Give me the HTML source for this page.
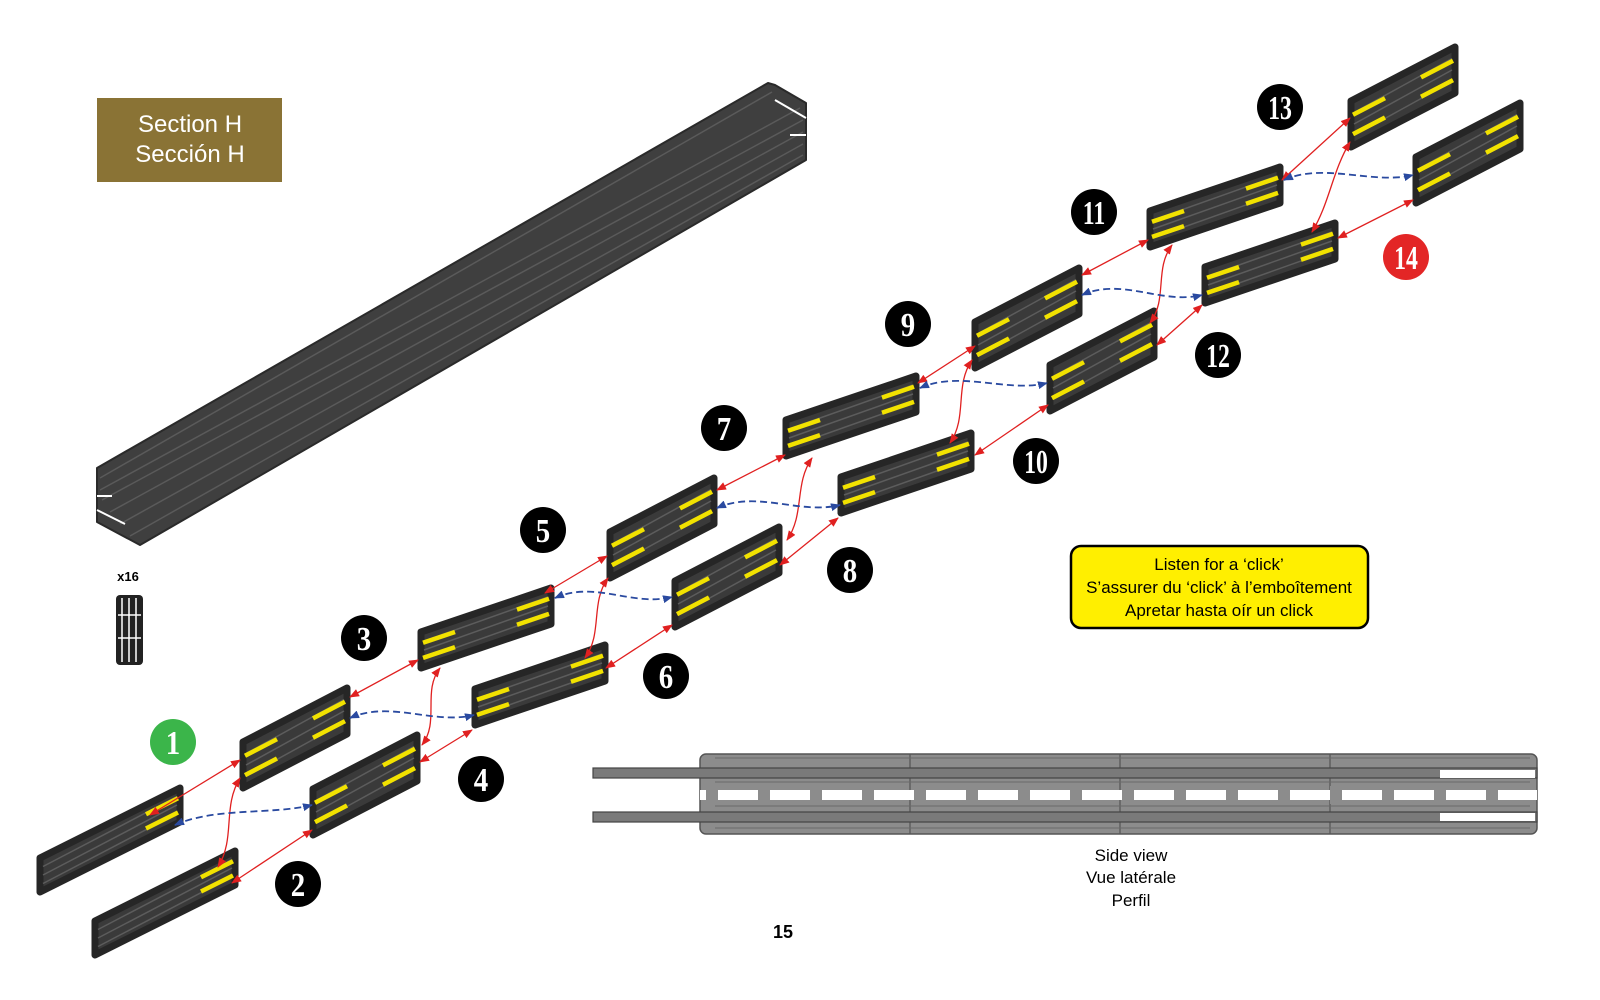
<!DOCTYPE html>
<html><head><meta charset="utf-8"><style>
html,body{margin:0;padding:0;background:#fff;width:1600px;height:1000px;overflow:hidden}
svg{display:block}
</style></head><body>
<svg id="s" width="1600" height="1000" viewBox="0 0 1600 1000" xmlns="http://www.w3.org/2000/svg" font-family="Liberation Sans, sans-serif">
<defs>
<marker id="ra" markerWidth="10" markerHeight="8" refX="9" refY="4" orient="auto-start-reverse" markerUnits="userSpaceOnUse"><path d="M0,0 L10,4 L0,8 Z" fill="#e02020"/></marker>
<marker id="ba" markerWidth="10" markerHeight="8" refX="9" refY="4" orient="auto-start-reverse" markerUnits="userSpaceOnUse"><path d="M0,0 L10,4 L0,8 Z" fill="#2a4aa0"/></marker>
</defs>
<rect x="97" y="98" width="185" height="84" fill="#8a7335"/>
<text x="190" y="132" font-size="24" fill="#fff" text-anchor="middle">Section H</text>
<text x="190" y="162" font-size="24" fill="#fff" text-anchor="middle">Sección H</text>
<polygon points="97,468 768,83 775,85 806,103 806,160 140,545 97,522" fill="#3f3f3f" stroke="#2a2a2a" stroke-width="2" stroke-linejoin="round"/>
<g stroke="#5a5a5a" stroke-width="1.5">
<line x1="100" y1="478" x2="772" y2="92"/><line x1="100" y1="490" x2="800" y2="108"/>
<line x1="102" y1="500" x2="803" y2="120"/><line x1="110" y1="512" x2="803" y2="132"/>
<line x1="120" y1="524" x2="803" y2="144"/><line x1="130" y1="536" x2="803" y2="155"/>
</g>
<g stroke="#fff" stroke-width="2"><line x1="97" y1="496" x2="112" y2="496"/><line x1="97" y1="510" x2="125" y2="524"/><line x1="775" y1="100" x2="806" y2="118"/><line x1="790" y1="135" x2="806" y2="135"/></g>
<text x="128" y="581" font-size="13" font-weight="bold" text-anchor="middle">x16</text>
<rect x="116" y="595" width="27" height="70" rx="4" fill="#222"/>
<g stroke="#fff" stroke-width="1.5"><line x1="122" y1="598" x2="122" y2="662"/><line x1="129" y1="598" x2="129" y2="662"/><line x1="136" y1="598" x2="136" y2="662"/><line x1="118" y1="615" x2="141" y2="615"/><line x1="118" y1="638" x2="141" y2="638"/></g>
<g id="pieces"></g>
<g id="conn"></g>
<g id="nums"></g>
<rect x="1071" y="546" width="297" height="82" rx="10" fill="#ffef00" stroke="#000" stroke-width="2.5"/>
<text x="1219" y="570" font-size="17" text-anchor="middle">Listen for a ‘click’</text>
<text x="1219" y="593" font-size="17" text-anchor="middle">S’assurer du ‘click’ à l’emboîtement</text>
<text x="1219" y="616" font-size="17" text-anchor="middle">Apretar hasta oír un click</text>
<g id="side"></g>
<text x="1131" y="861" font-size="17" text-anchor="middle">Side view</text>
<text x="1131" y="883" font-size="17" text-anchor="middle">Vue latérale</text>
<text x="1131" y="906" font-size="17" text-anchor="middle">Perfil</text>
<text x="783" y="938" font-size="18" font-weight="bold" text-anchor="middle">15</text>
</svg>
<script>
var NS="http://www.w3.org/2000/svg";
function el(p,t,a){var e=document.createElementNS(NS,t);for(var k in a)e.setAttribute(k,a[k]);p.appendChild(e);return e;}
var P=document.getElementById('pieces'),C=document.getElementById('conn'),N=document.getElementById('nums'),S=document.getElementById('side');
function piece(cx,cy,w,rise,h,yl,yr){
 var x0=cx-w/2,x1=cx+w/2,yA=cy+rise/2,yB=cy-rise/2;
 var pts=[[x0,yA+h/2],[x0,yA-h/2],[x1,yB-h/2],[x1,yB+h/2]];
 el(P,'polygon',{points:pts.map(p=>p.join(',')).join(' '),fill:'#3a3a3a',stroke:'#262626','stroke-width':7,'stroke-linejoin':'round'});
 for(var f=1;f<4;f++){var o=-h/2+h*f/4;el(P,'line',{x1:x0+3,y1:yA+o,x2:x1-3,y2:yB+o,stroke:'#5c5c5c','stroke-width':1.5});}
 var s=rise/w, L=32;
 [0.3,0.72].forEach(function(fr){var o=-h/2+h*fr;
  if(yl)el(P,'line',{x1:x0+2,y1:yA+o,x2:x0+2+L,y2:yA+o-s*L,stroke:'#f2e200','stroke-width':4.5});
  if(yr)el(P,'line',{x1:x1-2-L,y1:yB+o+s*L,x2:x1-2,y2:yB+o,stroke:'#f2e200','stroke-width':4.5});});
}
piece(110,840,140,70,34,0,1);
piece(165,903,140,70,34,0,1);
var T=[[295,738],[365,785],[662,528],[727,577],[1027,318],[1102,361],[1403,97],[1468,153]];
T.forEach(p=>piece(p[0],p[1],104,54,46,1,1));
var W=[[486,628],[540,685],[851,416],[906,473],[1215,207],[1270,263]];
W.forEach(p=>piece(p[0],p[1],130,44,36,1,1));
function red(d){el(C,'path',{d:d,fill:'none',stroke:'#e02020','stroke-width':1.3,'marker-start':'url(#ra)','marker-end':'url(#ra)'});}
function blue(d){el(C,'path',{d:d,fill:'none',stroke:'#2a4aa0','stroke-width':1.8,'stroke-dasharray':'7,4','marker-start':'url(#ba)','marker-end':'url(#ba)'});}
var rl=[[150,815,240,760],[232,883,312,830],[350,697,418,660],[420,762,472,730],[545,593,607,556],[606,668,672,625],[717,490,785,455],[780,565,838,518],[918,383,975,346],[975,455,1048,405],[1082,275,1148,240],[1157,345,1202,305],[1282,180,1350,118],[1338,238,1413,200]];
rl.forEach(a=>red('M'+a[0]+','+a[1]+' L'+a[2]+','+a[3]));
var wv=[[218,867,240,778],[422,745,440,668],[585,658,608,578],[787,540,812,458],[950,443,972,360],[1150,323,1172,245],[1312,232,1350,142]];
wv.forEach(a=>{var my=(a[1]+a[3])/2;red('M'+a[0]+','+a[1]+' C'+(a[0]+18)+','+(my+15)+' '+(a[2]-18)+','+(my-15)+' '+a[2]+','+a[3]);});
var bl=[[175,825,312,805],[350,718,474,715],[555,598,672,597],[717,508,840,505],[920,388,1047,383],[1082,295,1202,295],[1284,180,1413,175]];
bl.forEach(a=>{blue('M'+a[0]+','+a[1]+' C'+(a[0]+40)+','+(a[1]-18)+' '+(a[2]-40)+','+(a[3]+10)+' '+a[2]+','+a[3]);});
var nums=[[173,742,'1','#3bb54a'],[298,884,'2'],[364,638,'3'],[481,779,'4'],[543,530,'5'],[666,676,'6'],[724,428,'7'],[850,570,'8'],[908,324,'9'],[1036,461,'10'],[1094,212,'11'],[1218,355,'12'],[1280,107,'13'],[1406,257,'14','#e32626']];
nums.forEach(n=>{el(N,'circle',{cx:n[0],cy:n[1],r:23,fill:n[3]||'#000'});
 var sx=n[2].length>1?0.7:0.85;
 var t=el(N,'text',{x:0,y:0,'font-size':34,fill:'#fff','text-anchor':'middle','font-weight':'bold',style:'font-family:"Liberation Serif",serif',transform:'translate('+n[0]+','+(n[1]+12)+') scale('+sx+',1)'});
 t.textContent=n[2];});
el(S,'rect',{x:700,y:754,width:837,height:80,rx:6,fill:'#8c8c8c',stroke:'#555','stroke-width':1.5});
[910,1120,1330].forEach(x=>el(S,'line',{x1:x,y1:754,x2:x,y2:834,stroke:'#555','stroke-width':1.2}));
[768,812].forEach(y=>{el(S,'rect',{x:593,y:y,width:944,height:10,fill:'#7a7a7a',stroke:'#444','stroke-width':1.2});});
el(S,'rect',{x:700,y:790,width:837,height:10,fill:'#fff'});
for(var x=706;x<1530;x+=52){el(S,'rect',{x:x,y:786,width:12,height:18,fill:'#8c8c8c'});}
[[1440,770],[1440,813]].forEach(p=>el(S,'rect',{x:p[0],y:p[1],width:95,height:8,fill:'#fff'}));
[758,782,806,828].forEach(y=>el(S,'line',{x1:715,y1:y,x2:1530,y2:y,stroke:'#6a6a6a','stroke-width':1}));
</script>
</body></html>
